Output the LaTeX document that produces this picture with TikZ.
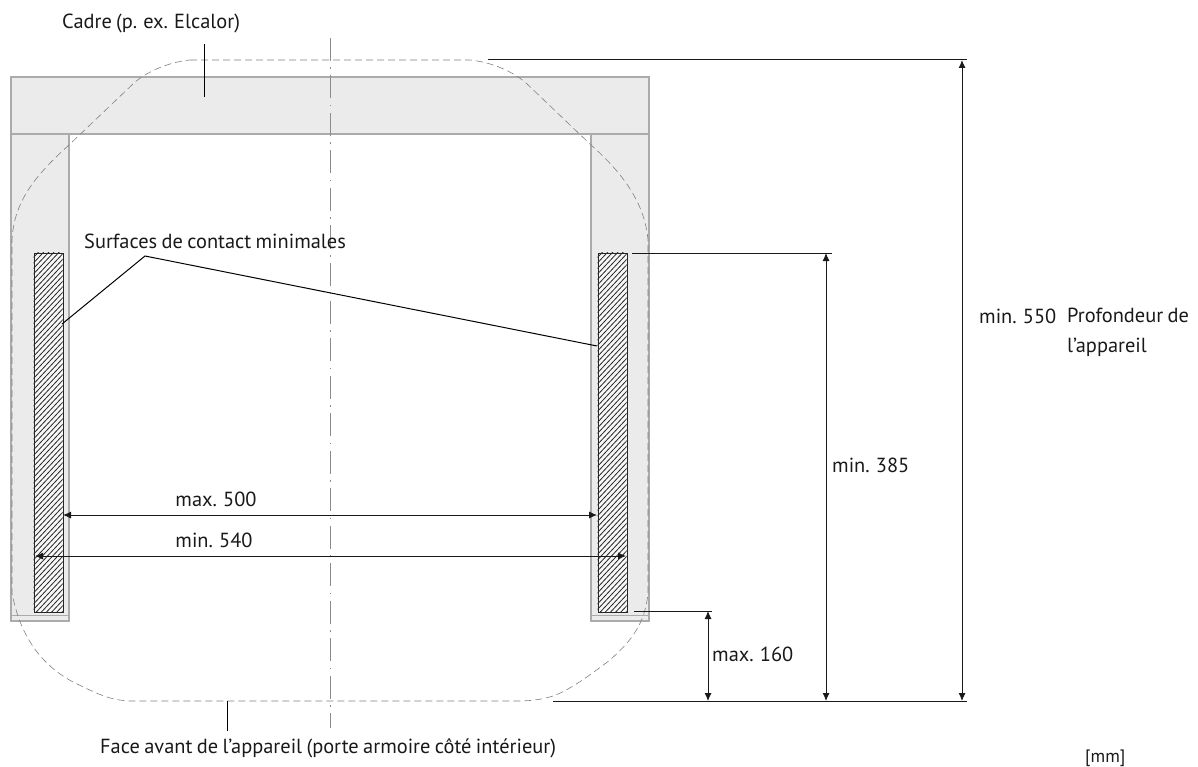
\documentclass[tikz,border=0pt]{standalone}
\usepackage{fontspec}
\setmainfont[WordSpace=0.8]{PT Sans}
\usetikzlibrary{arrows.meta}
\tikzset{
  x=1pt,y=-1pt,
  frameb/.style={draw=black!33,fill=black!8,line width=1.5pt},
  hatchb/.style={fill=black!3,minimum width=29pt,minimum height=359pt,inner sep=0pt,anchor=north west},
  hatchf/.style={draw=black!85,line width=1pt,minimum width=29pt,minimum height=359pt,inner sep=0pt,anchor=north west},
  hatchl/.style={draw=black!85,line width=.8pt},
  outline/.style={draw=black!50,line width=.6pt,dash pattern=on 7pt off 4pt},
  axisl/.style={draw=black!45,line width=1pt,dash pattern=on 23pt off 6.5pt on 1.5pt off 6.5pt},
  leader/.style={draw=black,line width=1pt},
  ext/.style={draw=black!90,line width=1pt},
  dimline/.style={draw=black!90,line width=.9pt,{Latex[length=8pt,width=7pt]}-{Latex[length=8pt,width=7pt]}},
  lbl/.style={font=\fontsize{20.4}{23}\selectfont,inner sep=0pt,text=black!90}
}
\begin{document}
\begin{tikzpicture}
\useasboundingbox (0,0) rectangle (1198,767);
% frame
\draw[frameb] (11,134) rectangle (69,621);
\draw[frameb] (591,134) rectangle (649,621);
\draw[frameb,line width=.8pt] (11,615) -- (69,615) (591,615) -- (649,615);
\draw[frameb] (11,77) rectangle (649,134);
% contact surfaces
\node[hatchb] (hl) at (33.5,252.5) {};
\node[hatchb] (hr) at (597.5,252.5) {};
\begin{scope}
\clip (33.5,252.5) rectangle (62.5,611.5);
\foreach \k in {0,...,75} \draw[hatchl] (33,{258+5.5*\k}) -- ++(30,-32);
\end{scope}
\begin{scope}
\clip (597.5,252.5) rectangle (626.5,611.5);
\foreach \k in {0,...,75} \draw[hatchl] (597,{258+5.5*\k}) -- ++(30,-32);
\end{scope}
\node[hatchf] (hlb) at (33.5,252.5) {};
\node[hatchf] (hrb) at (597.5,252.5) {};
% device outline
\draw[outline] (190,60) -- (470,60)
  .. controls (490,62) and (510,70) .. (525,82)
  -- (591,145)
  .. controls (625,175) and (645,205) .. (648,240)
  -- (648,593)
  .. controls (645,625) and (630,642) .. (610,660)
  .. controls (590,675) and (570,690) .. (553,696)
  .. controls (540,700) and (530,701) .. (515,701)
  -- (130,701)
  .. controls (110,700) and (100,695) .. (75,683)
  .. controls (40,665) and (20,635) .. (12,593)
  -- (12,240)
  .. controls (14,205) and (30,180) .. (69,145)
  -- (135,82)
  .. controls (150,70) and (170,62) .. (190,60) -- cycle;
% axis
\coordinate (a1) at (330,38); \coordinate (a2) at (330,728);
\draw[axisl] (a1) -- (a2);
% labels
\node[lbl,anchor=base west] (cadre) at (62,29) {Cadre (p. ex. Elcalor)};
\node[lbl,anchor=base west] (surf) at (84,248) {Surfaces de contact minimales};
\node[lbl,anchor=base west] (face) at (100,753) {Face avant de l’appareil (porte armoire côté intérieur)};
\node[lbl,anchor=base] (m500) at (216,506) {max. 500};
\node[lbl,anchor=base] (m540) at (214,547) {min. 540};
\node[lbl,anchor=base west] (m385) at (832,472) {min. 385};
\node[lbl,anchor=base west] (m160) at (712,661) {max. 160};
\node[lbl,anchor=base west] (m550) at (979,323) {min. 550};
\node[lbl,anchor=base west] (prof) at (1067,322) {Profondeur de};
\node[lbl,anchor=base west] (prof2) at (1067,352) {l’appareil};
\node[lbl,anchor=base west,font=\fontsize{18}{20}\selectfont] (mm) at (1085,762) {[mm]};
% leaders
\coordinate (l1) at (204,44); \coordinate (l2) at (204,97);
\draw[leader] (l1) -- (l2);
\coordinate (l3) at (227,701); \coordinate (l4) at (227,731);
\draw[leader] (l3) -- (l4);
\coordinate (s0) at (145,256); \coordinate (s1) at (62,324); \coordinate (s2) at (597,346);
\draw[leader] (s1) -- (s0) -- (s2);
% extension lines
\coordinate (e1a) at (488,60); \coordinate (e1b) at (967,60);
\coordinate (e2a) at (553,701); \coordinate (e2b) at (967,701);
\coordinate (e3a) at (632,253); \coordinate (e3b) at (832,253);
\coordinate (e4a) at (634,611); \coordinate (e4b) at (712,611);
\draw[ext] (e1a) -- (e1b);
\draw[ext] (e2a) -- (e2b);
\draw[ext] (e3a) -- (e3b);
\draw[ext] (e4a) -- (e4b);
% dimensions
\coordinate (d1a) at (962,60); \coordinate (d1b) at (962,701);
\coordinate (d2a) at (826,253); \coordinate (d2b) at (826,701);
\coordinate (d3a) at (708,611); \coordinate (d3b) at (708,701);
\coordinate (d4a) at (63,515); \coordinate (d4b) at (597,515);
\coordinate (d5a) at (35,556); \coordinate (d5b) at (626,556);
\draw[dimline] (d1a) -- (d1b);
\draw[dimline] (d2a) -- (d2b);
\draw[dimline] (d3a) -- (d3b);
\draw[dimline] (d4a) -- (d4b);
\draw[dimline] (d5a) -- (d5b);
\end{tikzpicture}
\end{document}
